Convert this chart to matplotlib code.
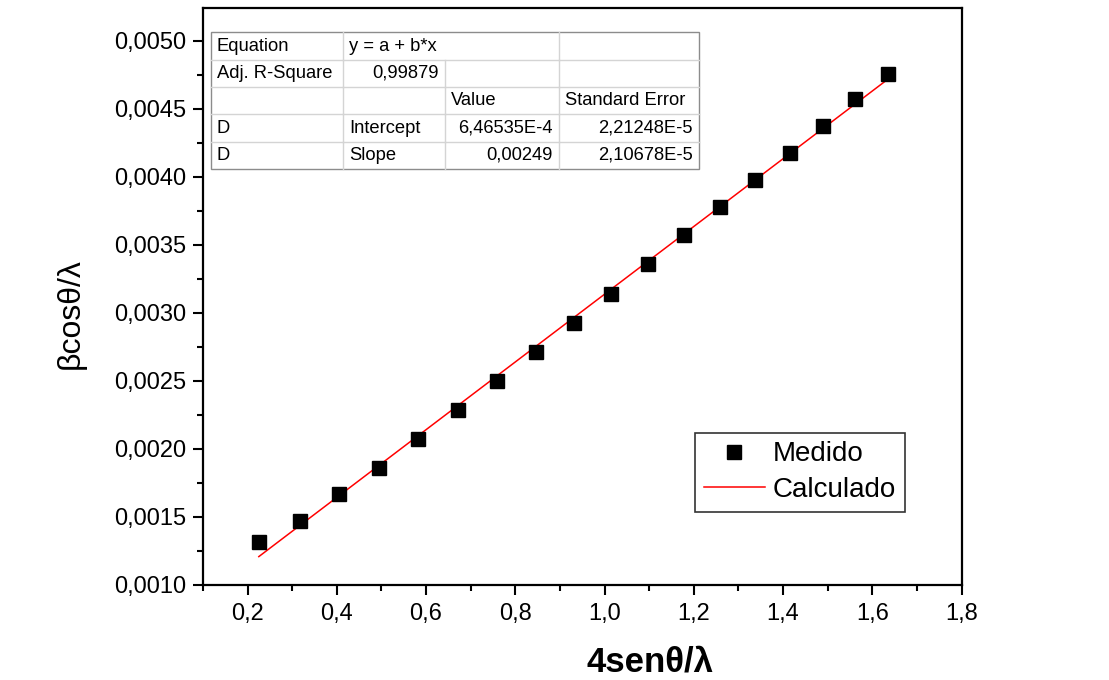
#!/usr/bin/env python3

import matplotlib

matplotlib.use("Agg")
import matplotlib.pyplot as plt
import numpy as np
from matplotlib.patches import Rectangle

plt.rcParams["font.family"] = ["Liberation Sans", "DejaVu Sans"]

x_med = [0.2252, 0.3166, 0.4048, 0.4945, 0.5829, 0.6711, 0.7580, 0.8455, 0.9308,
         1.0145, 1.0969, 1.1790, 1.2587, 1.3377, 1.4146, 1.4896, 1.5621, 1.6346]
y_med = [0.001313, 0.001472, 0.001666, 0.001859, 0.002072, 0.002282, 0.002497,
         0.002712, 0.002925, 0.003141, 0.003356, 0.003569, 0.003777, 0.003978,
         0.004178, 0.004371, 0.004569, 0.004756]

# linear fit parameters from the table
intercept = 6.46535e-4
slope = 0.00249

x_ticks = [0.2, 0.4, 0.6, 0.8, 1.0, 1.2, 1.4, 1.6, 1.8]
x_tick_labels = ["0,2", "0,4", "0,6", "0,8", "1,0", "1,2", "1,4", "1,6", "1,8"]
y_ticks = [0.0010, 0.0015, 0.0020, 0.0025, 0.0030, 0.0035, 0.0040, 0.0045, 0.0050]
y_tick_labels = ["0,0010", "0,0015", "0,0020", "0,0025", "0,0030",
                 "0,0035", "0,0040", "0,0045", "0,0050"]

table_rows = [
    ["Equation", "y = a + b*x", "", ""],
    ["Adj. R-Square", "0,99879", "", ""],
    ["", "", "Value", "Standard Error"],
    ["D", "Intercept", "6,46535E-4", "2,21248E-5"],
    ["D", "Slope", "0,00249", "2,10678E-5"],
]
# alignment per cell: l = left, r = right
table_align = [
    ["l", "l", "l", "l"],
    ["l", "r", "l", "l"],
    ["l", "l", "l", "l"],
    ["l", "l", "r", "r"],
    ["l", "l", "r", "r"],
]
col_widths = [132, 102, 114, 140]


def draw_table(ax, x0, y_top, width, height):
    total = sum(col_widths)
    xs = [x0]
    for w in col_widths:
        xs.append(xs[-1] + width * w / total)
    n_rows = len(table_rows)
    row_h = height / n_rows
    grid_col = "#d4d4d4"
    ax.add_patch(Rectangle((x0, y_top - height), width, height, transform=ax.transAxes,
                           facecolor="white", edgecolor="#8c8c8c", lw=1.0, zorder=4))
    # horizontal grid lines
    for r in range(1, n_rows):
        yy = y_top - r * row_h
        ax.plot([x0, x0 + width], [yy, yy], transform=ax.transAxes,
                color=grid_col, lw=1.0, zorder=5)
    # vertical grid lines (row 0 has the equation spanning two columns)
    for r in range(n_rows):
        yt = y_top - r * row_h
        yb = yt - row_h
        for c in range(1, len(col_widths)):
            if r == 0 and c == 2:
                continue
            ax.plot([xs[c], xs[c]], [yb, yt], transform=ax.transAxes,
                    color=grid_col, lw=1.0, zorder=5)
    pad = 0.008
    for r, row in enumerate(table_rows):
        yc = y_top - (r + 0.5) * row_h
        for c, txt in enumerate(row):
            if not txt:
                continue
            if table_align[r][c] == "l":
                ax.text(xs[c] + pad, yc, txt, transform=ax.transAxes, ha="left",
                        va="center", fontsize=13.2, zorder=6)
            else:
                ax.text(xs[c + 1] - pad, yc, txt, transform=ax.transAxes, ha="right",
                        va="center", fontsize=13.2, zorder=6)


fig = plt.figure(figsize=(11.09, 6.80), dpi=100)
ax = fig.add_axes([0.183, 0.140, 0.684, 0.848])

ax.plot(x_med, y_med, linestyle="none", marker="s", markersize=9.5,
        color="black", label="Medido", zorder=3)

x_fit = np.array([min(x_med), max(x_med)])
ax.plot(x_fit, intercept + slope * x_fit, color="red", lw=1.1,
        label="Calculado", zorder=2)

ax.set_xlim(0.1, 1.8)
ax.set_ylim(0.0010, 0.00524)
ax.set_xticks(x_ticks)
ax.set_xticklabels(x_tick_labels)
ax.set_yticks(y_ticks)
ax.set_yticklabels(y_tick_labels)
ax.set_xticks(np.arange(0.1, 1.8, 0.2), minor=True)
ax.set_yticks(np.arange(0.00125, 0.0051, 0.0005), minor=True)

ax.tick_params(which="major", direction="out", length=7, width=1.5,
               labelsize=17, pad=5)
ax.tick_params(which="minor", direction="out", length=4.5, width=1.5)
ax.tick_params(axis="x", which="major", pad=6)
for sp in ax.spines.values():
    sp.set_linewidth(1.6)

ax.set_xlabel("4sen\u03b8/\u03bb", fontsize=25, fontweight="bold")
ax.xaxis.set_label_coords(0.59, -0.105)
ax.set_ylabel("\u03b2cos\u03b8/\u03bb", fontsize=23)
ax.yaxis.set_label_coords(-0.154, 0.47)

leg = ax.legend(loc="upper right", bbox_to_anchor=(0.925, 0.263), fontsize=20,
                frameon=True, fancybox=False, edgecolor="black", handlelength=2.2,
                handletextpad=0.3, borderpad=0.3, labelspacing=0.35,
                borderaxespad=0.0)
leg.get_frame().set_linewidth(1.2)

draw_table(ax, 0.0105, 0.958, 0.643, 0.237)

fig.savefig("out.png", dpi=100, facecolor="white")
plt.close(fig)
